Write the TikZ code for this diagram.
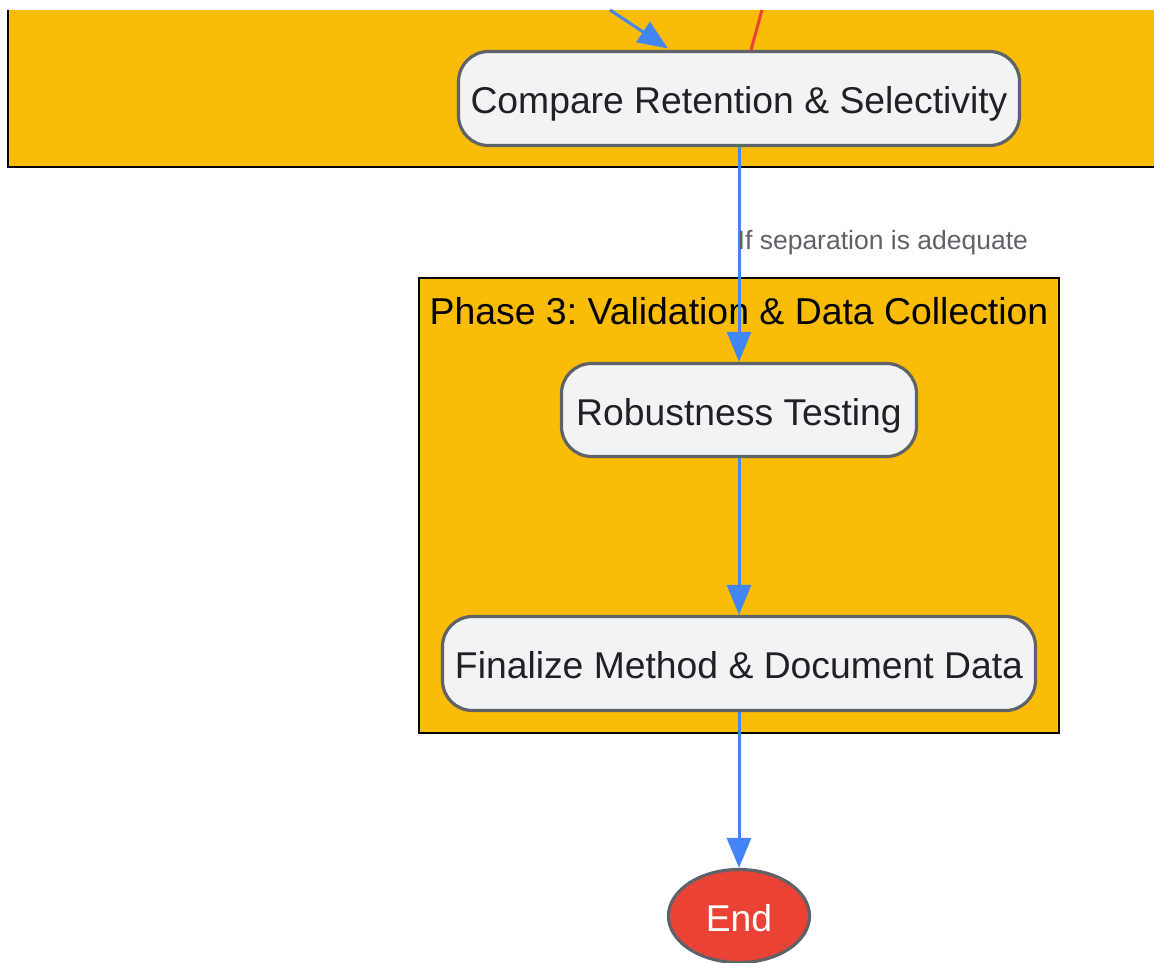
\documentclass[tikz,border=0pt]{standalone}
\usepackage{fontspec}
\setmainfont{Liberation Sans}
\frenchspacing
\usetikzlibrary{arrows.meta,shapes.geometric}
\definecolor{gyellow}{HTML}{FBBC05}
\definecolor{gblue}{HTML}{4285F4}
\definecolor{gred}{HTML}{EA4335}
\definecolor{ggrey}{HTML}{5F6368}
\definecolor{nodefill}{HTML}{F1F3F4}
\definecolor{txt}{HTML}{202124}
\tikzset{
  x=1pt, y=-1pt,
  proc/.style={draw=ggrey, line width=3.2pt, fill=nodefill, rounded corners=30pt,
    text=txt, font=\fontsize{37.3}{44}\selectfont, inner sep=0pt,
    text height=30.6pt, text depth=0pt},
  flow/.style={draw=gblue, line width=3pt, -{Triangle[length=30pt,width=24pt]}},
  redflow/.style={draw=gred, line width=3pt},
  phase/.style={fill=gyellow, draw=black, line width=2.5pt},
  lbl/.style={text=ggrey, font=\fontsize{26.5}{30}\selectfont, inner sep=0pt},
}
\begin{document}
\begin{tikzpicture}
\useasboundingbox (0,0) rectangle (1154,962);
\fill[white] (0,0) rectangle (1154,962);
% Phase 2 box (cropped)
\fill[gyellow] (8,10) rectangle (1154,167);
\draw[black, line width=2.5pt] (8,10) -- (8,167) -- (1154,167);
% Phase 3 box
\draw[phase] (419,278) rectangle (1059,733);
\node[font=\fontsize{37.4}{44}\selectfont, text=black, inner sep=0pt] (ph3title) at (739,311.5) {Phase 3: Validation \& Data Collection};
% nodes
\node[proc, minimum width=561pt, minimum height=94pt] (compare) at (739,98.5) {Compare Retention \& Selectivity};
\node[proc, minimum width=355pt, minimum height=93pt] (robust) at (739,410) {Robustness Testing};
\node[proc, minimum width=593pt, minimum height=94pt] (final) at (739,663.5) {Finalize Method \& Document Data};
\node[ellipse, draw=ggrey, line width=3.2pt, fill=gred, text=white, font=\fontsize{37.3}{44}\selectfont,
  minimum width=141pt, minimum height=93pt, inner sep=0pt, text height=30.6pt, text depth=0pt] (end) at (739,916) {End};
% incoming edges from above
\coordinate (inblue) at (610,10);
\coordinate (inred) at (762,10);
\draw[flow] (inblue) -- (668,48.5);
\draw[redflow] (inred) -- (751,50);
% edges
\draw[flow] (compare.south) -- (robust.north);
\node[lbl, anchor=west] (cond) at (737.5,243) {If separation is adequate};
\draw[flow] (robust.south) -- (final.north);
\draw[flow] (final.south) -- (end.north);
\end{tikzpicture}
\end{document}
